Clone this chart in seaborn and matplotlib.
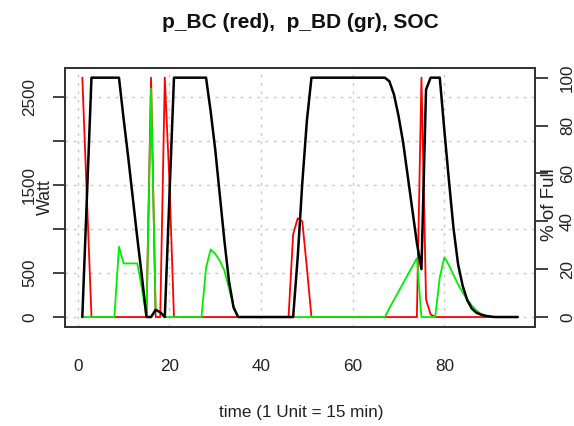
import numpy as np
import pandas as pd
import matplotlib
matplotlib.use("Agg")
import matplotlib.pyplot as plt
import seaborn as sns

# ---------------- data ----------------
time = list(range(1, 97))

p_BC = [2725, 1360, 0, 0, 0, 0, 0, 0, 0, 0,
        0, 0, 0, 0, 0, 2725, 0, 0, 2725, 1550,
        0, 0, 0, 0, 0, 0, 0, 0, 0, 0,
        0, 0, 0, 0, 0, 0, 0, 0, 0, 0,
        0, 0, 0, 0, 0, 0, 940, 1125, 1090, 560,
        0, 0, 0, 0, 0, 0, 0, 0, 0, 0,
        0, 0, 0, 0, 0, 0, 0, 0, 0, 0,
        0, 0, 0, 0, 2725, 200, 30, 0, 0, 0,
        0, 0, 0, 0, 0, 0, 0, 0, 0, 0,
        0, 0, 0, 0, 0, 0]

p_BD = [0, 0, 0, 0, 0, 0, 0, 0, 800, 610,
        610, 610, 610, 330, 0, 2600, 80, 60, 0, 0,
        0, 0, 0, 0, 0, 0, 0, 560, 770, 720,
        640, 530, 330, 120, 0, 0, 0, 0, 0, 0,
        0, 0, 0, 0, 0, 0, 0, 0, 0, 0,
        0, 0, 0, 0, 0, 0, 0, 0, 0, 0,
        0, 0, 0, 0, 0, 0, 0, 100, 195, 290,
        385, 480, 575, 670, 0, 0, 0, 0, 450, 680,
        590, 480, 370, 280, 200, 130, 75, 35, 15, 5,
        0, 0, 0, 0, 0, 0]

SOC = [0, 50, 100, 100, 100, 100, 100, 100, 100, 83,
       67, 50, 33, 17, 0, 0, 3, 2, 0, 50,
       100, 100, 100, 100, 100, 100, 100, 100, 86, 70,
       51, 32, 15, 4, 0, 0, 0, 0, 0, 0,
       0, 0, 0, 0, 0, 0, 0, 25, 56, 82,
       100, 100, 100, 100, 100, 100, 100, 100, 100, 100,
       100, 100, 100, 100, 100, 100, 100, 98.5, 93, 84,
       73, 59, 45, 31, 20, 95, 100, 100, 100, 78,
       57, 37, 22, 13, 7, 3.5, 1.8, 1, 0.5, 0.2,
       0, 0, 0, 0, 0, 0]

x_ticks = [0, 20, 40, 60, 80]
watt_ticks = [0, 500, 1000, 1500, 2000, 2500]
watt_labels = ["0", "500", "", "1500", "", "2500"]
soc_ticks = [0, 20, 40, 60, 80, 100]

title = "p_BC (red),  p_BD (gr), SOC"
xlabel = "time (1 Unit = 15 min)"
ylabel_left = "Watt"
ylabel_right = "% of Full"

# ---------------- style ----------------
sns.set_style("white")
plt.rcParams['font.family'] = ['Liberation Sans', 'DejaVu Sans']

W, H = 574, 426
fig = plt.figure(figsize=(W / 100, H / 100), dpi=100)
ax = fig.add_axes([64.9 / W, (H - 326.6) / H, (535.1 - 64.9) / W, (326.6 - 68.1) / H])

df = pd.DataFrame({"time": time, "p_BC": p_BC, "p_BD": p_BD, "SOC": SOC})

sns.lineplot(data=df, x="time", y="p_BC", color="#ff0000", lw=1.3, ax=ax)
sns.lineplot(data=df, x="time", y="p_BD", color="#00ee00", lw=1.3, ax=ax)

def r_lim(vals):
    lo, hi = min(vals), max(vals)
    pad = 0.04 * (hi - lo)
    return lo - pad, hi + pad

ax.set_xlim(*r_lim(time))
ax.set_ylim(*r_lim(p_BC + p_BD))
ax.set_xticks(x_ticks)
ax.set_xticklabels([str(v) for v in x_ticks])
ax.set_yticks(watt_ticks)
ax.set_yticklabels(watt_labels, rotation=90, va="center")
ax.grid(True, color="#c8c8c8", lw=1.0, linestyle=(0, (2.0, 4.0)))
ax.set_axisbelow(True)
ax.set_xlabel("")
ax.set_ylabel("")

ax2 = ax.twinx()
sns.lineplot(data=df, x="time", y="SOC", color="black", lw=1.8, ax=ax2)
ax2.set_ylim(-4, 104)
ax2.set_yticks(soc_ticks)
ax2.set_yticklabels([str(v) for v in soc_ticks], rotation=90, va="center")
ax2.set_ylabel("")
ax2.set_xlabel("")

for a in (ax, ax2):
    for s in a.spines.values():
        s.set_color("#333333")
        s.set_linewidth(1.3)
ax.tick_params(axis="both", direction="out", length=9, width=1.3, color="#333333",
               labelsize=12.3, labelcolor="#222222")
ax.tick_params(axis="x", pad=14)
ax.tick_params(axis="y", pad=11)
ax2.tick_params(axis="y", direction="out", length=9, width=1.3, color="#333333",
                labelsize=12.3, labelcolor="#222222", pad=9)

fig.text(300.5 / W, 1 - 22 / H, title, ha="center", va="center",
         fontsize=15, fontweight="bold", color="#111111")
fig.text(301 / W, 1 - 413 / H, xlabel, ha="center", va="center",
         fontsize=12.3, color="#222222")
fig.text(45.5 / W, 1 - 197.5 / H, ylabel_left, ha="center", va="center",
         rotation=90, fontsize=12.8, color="#222222")
fig.text(549.5 / W, 1 - 205 / H, ylabel_right, ha="center", va="center",
         rotation=90, fontsize=13.5, color="#222222")

fig.savefig("out.png", dpi=100)
